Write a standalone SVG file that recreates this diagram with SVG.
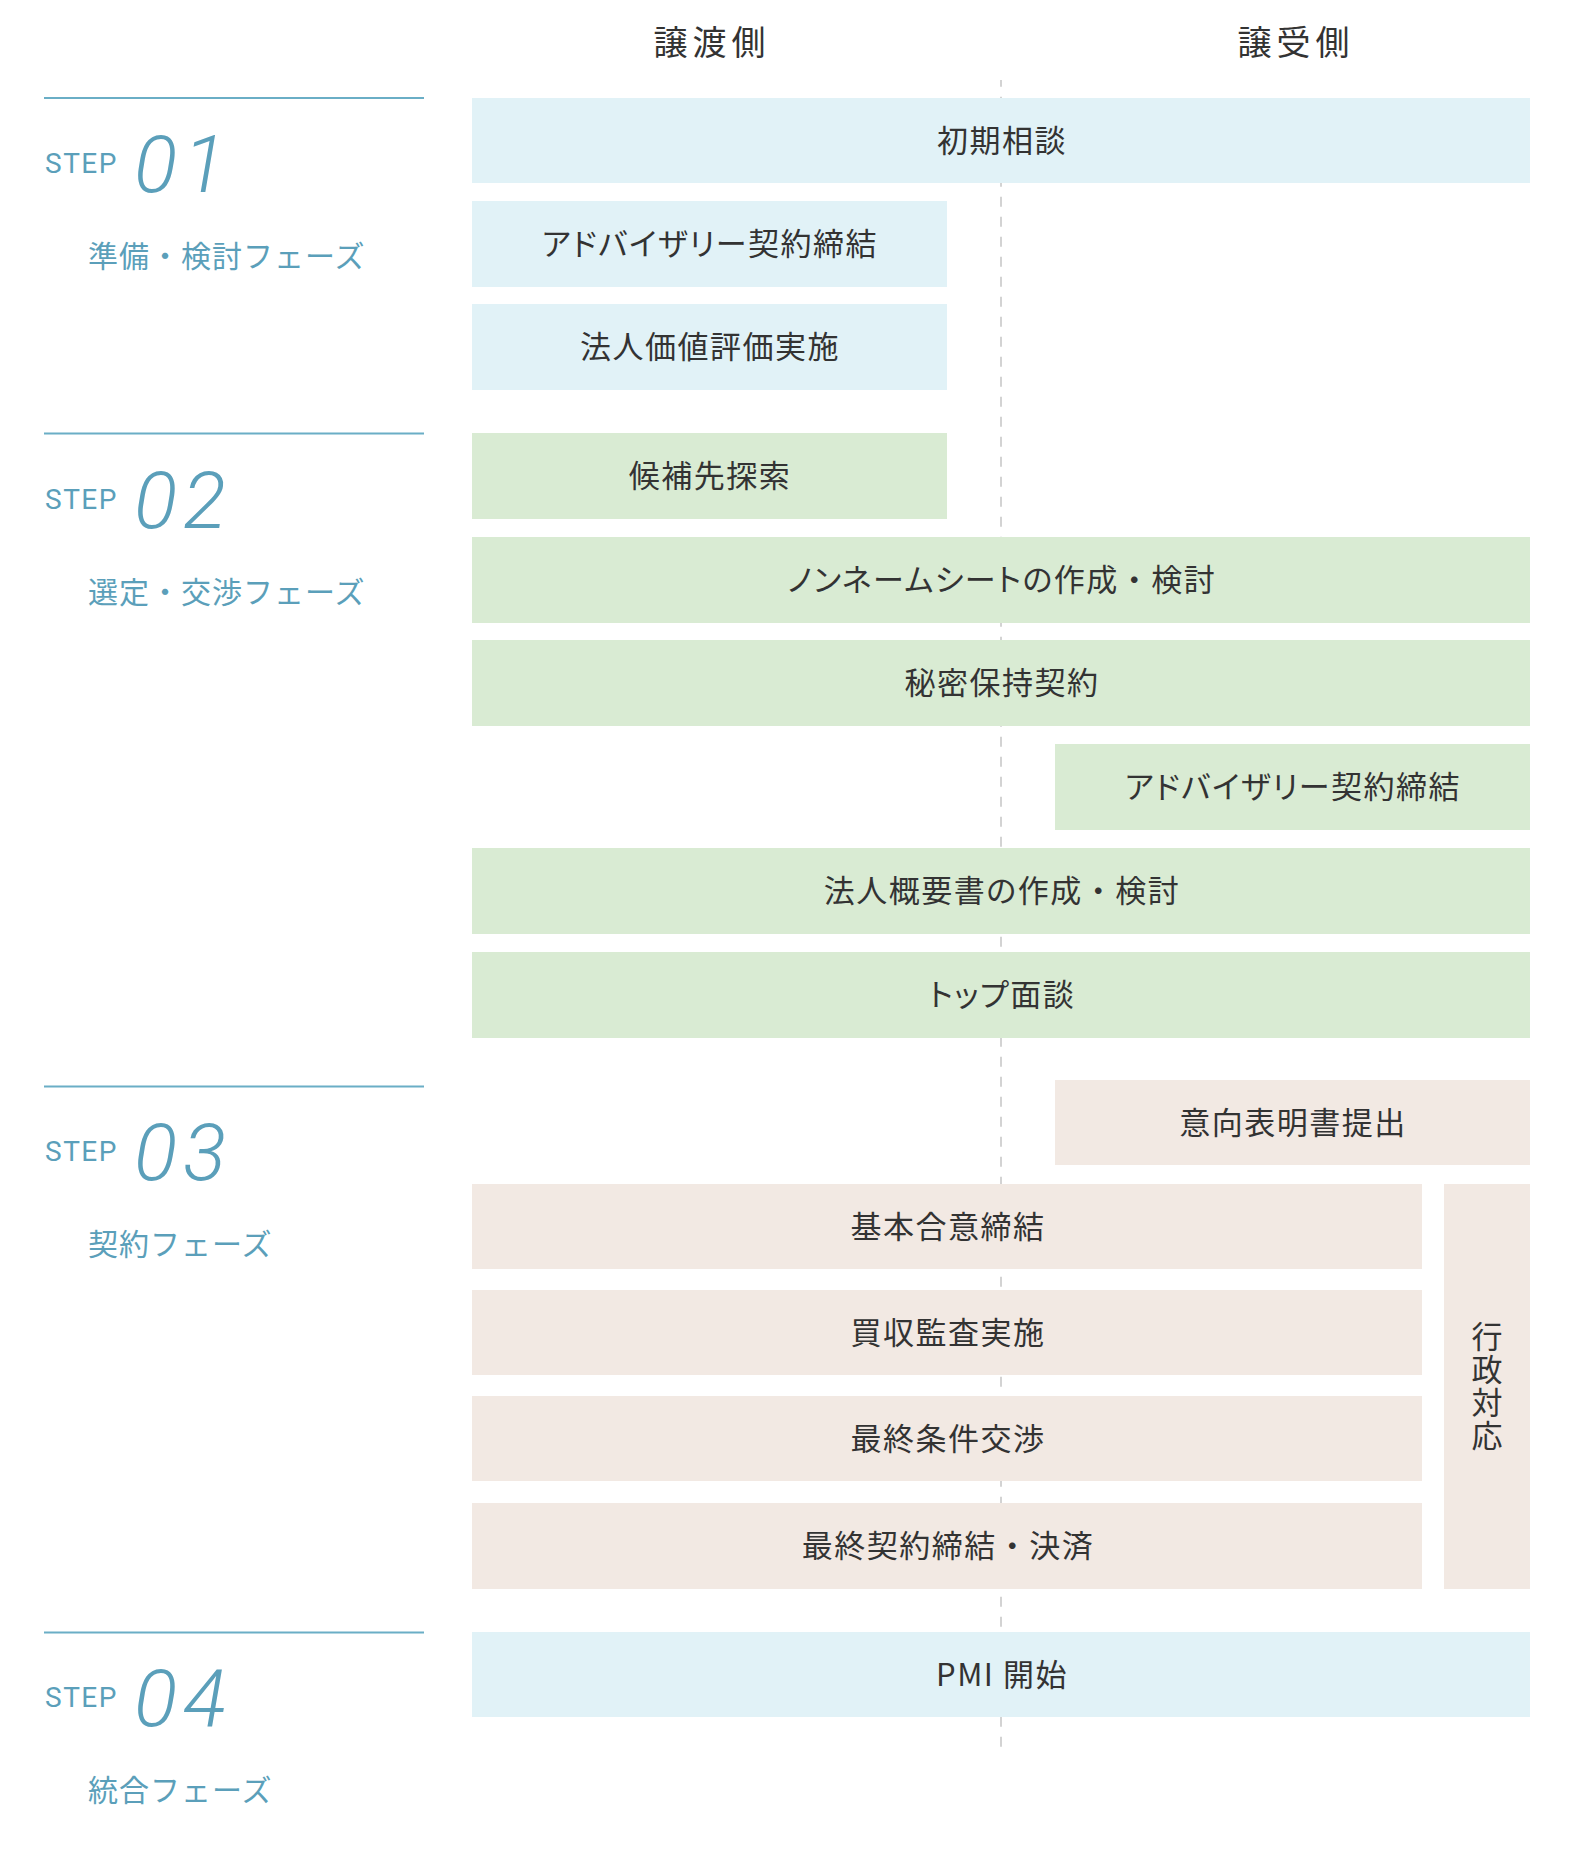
<svg xmlns="http://www.w3.org/2000/svg" width="1585" height="1871" viewBox="0 0 1585 1871">
<style>
.hd{font-family:"Noto Sans CJK JP","Noto Sans",sans-serif;font-size:34px;fill:#333;letter-spacing:5px;text-anchor:middle}
.bt{font-family:"Noto Sans CJK JP","Noto Sans",sans-serif;font-size:31px;fill:#333;letter-spacing:1.5px;text-anchor:middle;font-feature-settings:"palt"}
.np{font-feature-settings:normal}
.vt{font-family:"Noto Sans CJK JP","Noto Sans",sans-serif;font-size:31px;fill:#333;letter-spacing:2px;text-anchor:middle;writing-mode:vertical-rl;text-orientation:upright}
.step{font-family:Roboto,"Liberation Sans",sans-serif;font-weight:400;font-size:28px;fill:#5b9fba;letter-spacing:1.5px}
.num{font-family:Roboto,"Liberation Sans",sans-serif;font-weight:300;font-style:italic;font-size:80px;fill:#5b9fba;letter-spacing:6px}
.ph{font-family:"Noto Sans CJK JP","Noto Sans",sans-serif;font-size:30px;fill:#5b9fba;letter-spacing:1px}
.rule{stroke:#6aaec6;stroke-width:2}
.blue{fill:#e1f2f7}
.green{fill:#d9ebd3}
.beige{fill:#f2e9e3}
</style>
<rect width="1585" height="1871" fill="#fff"/>
<g id="lanes">
<line x1="1001" y1="80" x2="1001" y2="1752" stroke="#d3d3d3" stroke-width="2" stroke-dasharray="10 10" stroke-dashoffset="3.3"/>
</g>
<g id="headers">
<text class="hd" x="712" y="55">譲渡側</text>
<text class="hd" x="1296" y="55">譲受側</text>
</g>
<g id="step1">
<line class="rule" x1="44" y1="98" x2="424" y2="98"/>
<text class="step" x="45" y="173">STEP</text>
<text class="num" x="134" y="192">01</text>
<text class="ph" x="88" y="267">準備・検討フェーズ</text>
</g>
<g id="step2">
<line class="rule" x1="44" y1="433.5" x2="424" y2="433.5"/>
<text class="step" x="45" y="509">STEP</text>
<text class="num" x="134" y="528">02</text>
<text class="ph" x="88" y="603">選定・交渉フェーズ</text>
</g>
<g id="step3">
<line class="rule" x1="44" y1="1086.5" x2="424" y2="1086.5"/>
<text class="step" x="45" y="1161">STEP</text>
<text class="num" x="134" y="1180">03</text>
<text class="ph" x="88" y="1255">契約フェーズ</text>
</g>
<g id="step4">
<line class="rule" x1="44" y1="1632.5" x2="424" y2="1632.5"/>
<text class="step" x="45" y="1707">STEP</text>
<text class="num" x="134" y="1726">04</text>
<text class="ph" x="88" y="1801">統合フェーズ</text>
</g>
<g id="n-initial"><rect class="blue" x="472" y="98" width="1058" height="85"/><text class="bt" x="1002" y="152">初期相談</text></g>
<g id="n-advisory-seller"><rect class="blue" x="472" y="201" width="475" height="86"/><text class="bt" x="710" y="255">アドバイザリー契約締結</text></g>
<g id="n-valuation"><rect class="blue" x="472" y="304" width="475" height="86"/><text class="bt" x="710" y="358">法人価値評価実施</text></g>
<g id="n-search"><rect class="green" x="472" y="433" width="475" height="86"/><text class="bt" x="710" y="487">候補先探索</text></g>
<g id="n-noname"><rect class="green" x="472" y="537" width="1058" height="86"/><text class="bt" x="1002" y="591">ノンネームシートの作成<tspan class="np">・</tspan>検討</text></g>
<g id="n-nda"><rect class="green" x="472" y="640" width="1058" height="86"/><text class="bt" x="1002" y="694">秘密保持契約</text></g>
<g id="n-advisory-buyer"><rect class="green" x="1055" y="744" width="475" height="86"/><text class="bt" x="1293" y="798">アドバイザリー契約締結</text></g>
<g id="n-im"><rect class="green" x="472" y="848" width="1058" height="86"/><text class="bt" x="1002" y="902">法人概要書の作成<tspan class="np">・</tspan>検討</text></g>
<g id="n-topmeeting"><rect class="green" x="472" y="952" width="1058" height="86"/><text class="bt" x="1002" y="1006">トップ面談</text></g>
<g id="n-loi"><rect class="beige" x="1055" y="1080" width="475" height="85"/><text class="bt" x="1293" y="1134">意向表明書提出</text></g>
<g id="n-basic"><rect class="beige" x="472" y="1184" width="950" height="85"/><text class="bt" x="948" y="1238">基本合意締結</text></g>
<g id="n-dd"><rect class="beige" x="472" y="1290" width="950" height="85"/><text class="bt" x="948" y="1344">買収監査実施</text></g>
<g id="n-final-terms"><rect class="beige" x="472" y="1396" width="950" height="85"/><text class="bt" x="948" y="1450">最終条件交渉</text></g>
<g id="n-closing"><rect class="beige" x="472" y="1503" width="950" height="86"/><text class="bt" x="948" y="1557">最終契約締結<tspan class="np">・</tspan>決済</text></g>
<g id="n-admin"><rect class="beige" x="1444" y="1184" width="86" height="405"/><text class="vt" x="1487" y="1387">行政対応</text></g>
<g id="n-pmi"><rect class="blue" x="472" y="1632" width="1058" height="85"/><text class="bt" x="1002" y="1686">PMI 開始</text></g>
</svg>
